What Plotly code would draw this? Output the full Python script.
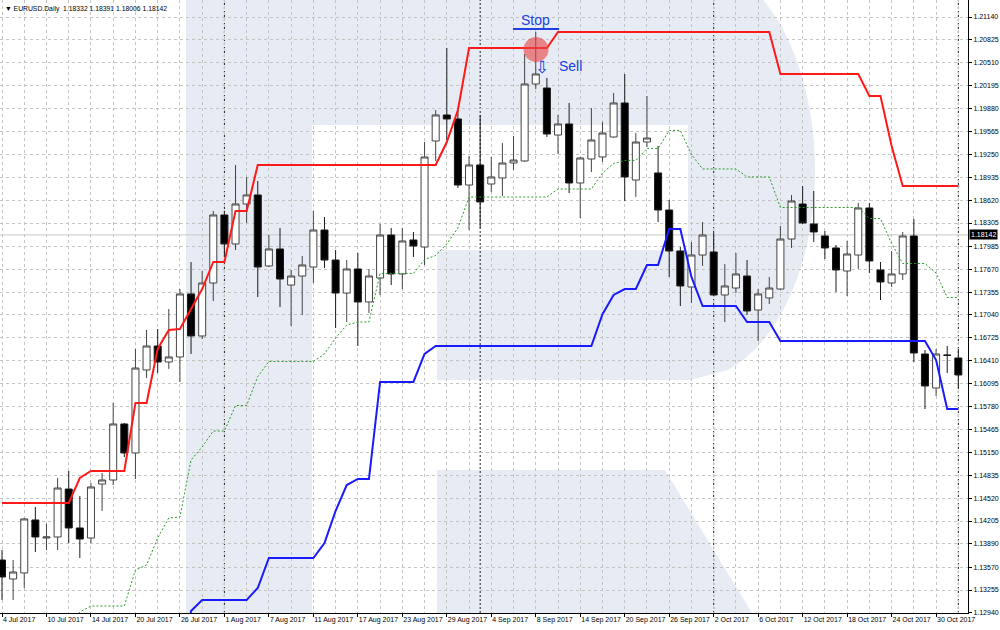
import math
import plotly.graph_objects as go

# ---------------- data (EURUSD Daily, 4 Jul 2017 .. 1 Nov 2017) ----------------
opens = [1.13668, 1.13407, 1.13490, 1.14219, 1.13971, 1.13985, 1.14645, 1.14109, 1.13971, 1.14714,
         1.14769, 1.15540, 1.15141, 1.16283, 1.16613, 1.16393, 1.16462, 1.17329, 1.16751, 1.17480,
         1.18416, 1.18017, 1.18567, 1.18691, 1.17714, 1.17948, 1.17452, 1.17576, 1.17700, 1.18209,
         1.17796, 1.17342, 1.17673, 1.17219, 1.17549, 1.18140, 1.17604, 1.18072, 1.17975, 1.19434,
         1.19792, 1.19737, 1.18828, 1.19104, 1.18842, 1.18925, 1.19131, 1.19159, 1.20218, 1.20163,
         1.19516, 1.19668, 1.18856, 1.19186, 1.19214, 1.19489, 1.19957, 1.18897, 1.19420, 1.18994,
         1.18484, 1.17920, 1.17425, 1.17865, 1.17907, 1.17315, 1.17411, 1.17576, 1.17108, 1.17274,
         1.17397, 1.18085, 1.18567, 1.18292, 1.18127, 1.17962, 1.17645, 1.17865, 1.18512, 1.17659,
         1.17480, 1.17604, 1.18127, 1.16503, 1.16035, 1.16489, 1.16448]
highs = [1.13806, 1.13668, 1.14246, 1.14398, 1.14164, 1.14797, 1.14893, 1.14549, 1.14728, 1.14866,
         1.15829, 1.15554, 1.16572, 1.16833, 1.16847, 1.17122, 1.17397, 1.17769, 1.17645, 1.18471,
         1.18471, 1.19104, 1.18939, 1.18883, 1.18140, 1.18237, 1.17659, 1.17851, 1.18471, 1.18388,
         1.17934, 1.17796, 1.17893, 1.17673, 1.18292, 1.18237, 1.18237, 1.18182, 1.19420, 1.19860,
         1.20714, 1.19860, 1.19227, 1.19792, 1.19214, 1.19406, 1.19503, 1.20631, 1.20934, 1.20301,
         1.19792, 1.19957, 1.19214, 1.19888, 1.19695, 1.20094, 1.20356, 1.19544, 1.20053, 1.19365,
         1.18622, 1.17975, 1.18044, 1.18319, 1.18168, 1.17741, 1.17893, 1.17796, 1.17397, 1.17563,
         1.18264, 1.18691, 1.18815, 1.18746, 1.18195, 1.18003, 1.18058, 1.18581, 1.18581, 1.17769,
         1.17920, 1.18182, 1.18361, 1.16558, 1.16572, 1.16613, 1.16572]
lows = [1.13118, 1.13118, 1.13283, 1.13779, 1.13806, 1.13806, 1.13902, 1.13696, 1.13902, 1.14343,
        1.14700, 1.15086, 1.14783, 1.16173, 1.16242, 1.16297, 1.16118, 1.16503, 1.16709, 1.17232,
        1.17838, 1.17934, 1.18306, 1.17287, 1.17700, 1.17150, 1.16888, 1.17040, 1.17480, 1.17686,
        1.16861, 1.16943, 1.16613, 1.17067, 1.17315, 1.17452, 1.17397, 1.17838, 1.17728, 1.19159,
        1.19448, 1.18787, 1.18209, 1.18237, 1.18732, 1.18677, 1.19035, 1.19145, 1.20149, 1.19489,
        1.19255, 1.18718, 1.18374, 1.19007, 1.19145, 1.19480, 1.18608, 1.18663, 1.19351, 1.18319,
        1.17563, 1.17163, 1.17205, 1.17714, 1.17301, 1.16943, 1.17342, 1.17040, 1.16682, 1.17191,
        1.17384, 1.17962, 1.18292, 1.18044, 1.17810, 1.17356, 1.17301, 1.17673, 1.17618, 1.17246,
        1.17425, 1.17521, 1.16393, 1.15746, 1.15925, 1.16242, 1.16035]
closes = [1.13435, 1.13503, 1.14233, 1.13985, 1.13985, 1.14659, 1.14109, 1.13957, 1.14673, 1.14769,
          1.15540, 1.15141, 1.16310, 1.16613, 1.16393, 1.16462, 1.17329, 1.16751, 1.17480, 1.18416,
          1.18017, 1.18567, 1.18691, 1.17700, 1.17948, 1.17535, 1.17576, 1.17728, 1.18209, 1.17796,
          1.17342, 1.17673, 1.17219, 1.17576, 1.18140, 1.17604, 1.18058, 1.17989, 1.19214, 1.19792,
          1.19737, 1.18828, 1.19104, 1.18595, 1.18939, 1.19131, 1.19172, 1.20218, 1.20356, 1.19530,
          1.19668, 1.18856, 1.19200, 1.19448, 1.19544, 1.19957, 1.18939, 1.19420, 1.19475, 1.18484,
          1.17920, 1.17439, 1.17865, 1.18140, 1.17315, 1.17439, 1.17604, 1.17095, 1.17329, 1.17411,
          1.18085, 1.18608, 1.18306, 1.18182, 1.17962, 1.17659, 1.17879, 1.18512, 1.17783, 1.17494,
          1.17604, 1.18127, 1.16517, 1.16063, 1.16503, 1.16485, 1.16214]

# channel indicator (upper / lower / middle)
upper_line = [1.14453, 1.14453, 1.14453, 1.14453, 1.14453, 1.14453, 1.14453, 1.14797, 1.14893, 1.14893,
              1.14893, 1.14893, 1.15829, 1.15829, 1.16572, 1.16833, 1.16847, 1.17122, 1.17397, 1.17769,
              1.17769, 1.18471, 1.18471, 1.19104, 1.19104, 1.19104, 1.19104, 1.19104, 1.19104, 1.19104,
              1.19104, 1.19104, 1.19104, 1.19104, 1.19104, 1.19104, 1.19104, 1.19104, 1.19104, 1.19104,
              1.19420, 1.19860, 1.20714, 1.20714, 1.20714, 1.20714, 1.20714, 1.20714, 1.20714, 1.20714,
              1.20934, 1.20934, 1.20934, 1.20934, 1.20934, 1.20934, 1.20934, 1.20934, 1.20934, 1.20934,
              1.20934, 1.20934, 1.20934, 1.20934, 1.20934, 1.20934, 1.20934, 1.20934, 1.20934, 1.20934,
              1.20356, 1.20356, 1.20356, 1.20356, 1.20356, 1.20356, 1.20356, 1.20356, 1.20053, 1.20053,
              1.19365, 1.18815, 1.18815, 1.18815, 1.18815, 1.18815, 1.18815]
lower_line = [None, None, None, None, None, None, None, None, None, None,
              None, None, None, None, None, None, 1.11673, 1.12967, 1.13118, 1.13118,
              1.13118, 1.13118, 1.13118, 1.13283, 1.13696, 1.13696, 1.13696, 1.13696, 1.13696, 1.13902,
              1.14343, 1.14700, 1.14783, 1.14783, 1.16118, 1.16118, 1.16118, 1.16118, 1.16503, 1.16613,
              1.16613, 1.16613, 1.16613, 1.16613, 1.16613, 1.16613, 1.16613, 1.16613, 1.16613, 1.16613,
              1.16613, 1.16613, 1.16613, 1.16613, 1.17050, 1.17315, 1.17397, 1.17397, 1.17728, 1.17728,
              1.18223, 1.18223, 1.17563, 1.17163, 1.17163, 1.17163, 1.17163, 1.16943, 1.16943, 1.16943,
              1.16682, 1.16682, 1.16682, 1.16682, 1.16682, 1.16682, 1.16682, 1.16682, 1.16682, 1.16682,
              1.16682, 1.16682, 1.16682, 1.16682, 1.16420, 1.15746, 1.15746]
middle_line = [None, None, None, None, None, None, 1.12760, 1.12953, 1.13035, 1.13035,
               1.13035, 1.13035, 1.13531, 1.13600, 1.13971, 1.14246, 1.14260, 1.15044, 1.15223, 1.15443,
               1.15443, 1.15794, 1.15794, 1.16193, 1.16400, 1.16400, 1.16400, 1.16400, 1.16400, 1.16503,
               1.16723, 1.16902, 1.16943, 1.16943, 1.17611, 1.17611, 1.17611, 1.17611, 1.17803, 1.17858,
               1.18017, 1.18237, 1.18663, 1.18663, 1.18663, 1.18663, 1.18663, 1.18663, 1.18663, 1.18663,
               1.18773, 1.18773, 1.18773, 1.18773, 1.18992, 1.19124, 1.19166, 1.19166, 1.19331, 1.19331,
               1.19579, 1.19579, 1.19248, 1.19049, 1.19049, 1.19049, 1.19049, 1.18939, 1.18939, 1.18939,
               1.18519, 1.18519, 1.18519, 1.18519, 1.18519, 1.18519, 1.18519, 1.18519, 1.18367, 1.18367,
               1.18023, 1.17748, 1.17748, 1.17748, 1.17618, 1.17280, 1.17280]

bar_index = list(range(len(opens)))

x_tick_bars = [0, 4, 8, 12, 16, 20, 24, 28, 32, 36, 40, 44, 48, 52, 56, 60, 64, 68, 72, 76, 80, 84]
x_tick_labels = ["4 Jul 2017", "10 Jul 2017", "14 Jul 2017", "20 Jul 2017", "26 Jul 2017", "1 Aug 2017",
                 "7 Aug 2017", "11 Aug 2017", "17 Aug 2017", "23 Aug 2017", "29 Aug 2017", "4 Sep 2017",
                 "8 Sep 2017", "14 Sep 2017", "20 Sep 2017", "26 Sep 2017", "2 Oct 2017", "6 Oct 2017",
                 "12 Oct 2017", "18 Oct 2017", "24 Oct 2017", "30 Oct 2017"]
month_separator_bars = [20, 43, 64, 86]

y_tick_labels = ["1.21140", "1.20825", "1.20510", "1.20195", "1.19880", "1.19565", "1.19250", "1.18935",
                 "1.18620", "1.18305", "1.17985", "1.17670", "1.17355", "1.17040", "1.16725", "1.16410",
                 "1.16095", "1.15780", "1.15465", "1.15150", "1.14835", "1.14520", "1.14205", "1.13890",
                 "1.13570", "1.13255", "1.12940"]
y_tick_values = [float(t) for t in y_tick_labels]

current_price = 1.18142
header_text = "▼ EURUSD.Daily  1.18332 1.18391 1.18006 1.18142"

# ---------------- layout geometry ----------------
W, H = 1000, 630
PLOT_W, PLOT_H = 968, 613
X_RANGE = [-0.18, 86.87]
Y_RANGE = [1.12939, 1.21374]
WM = "#e7ebf3"


def px(xp):
    return xp / PLOT_W


def py(yp):
    return 1 - yp / PLOT_H


fig = go.Figure()

fig.add_trace(go.Candlestick(
    x=bar_index, open=opens, high=highs, low=lows, close=closes,
    increasing=dict(fillcolor="white", line=dict(color="#444444", width=1)),
    decreasing=dict(fillcolor="black", line=dict(color="#1a1a1a", width=1)),
    whiskerwidth=0, showlegend=False, hoverinfo="skip",
))
fig.add_trace(go.Scatter(x=bar_index, y=middle_line, mode="lines",
                         line=dict(color="#2a9a2a", width=1, dash="2px,2px"), showlegend=False,
                         hoverinfo="skip"))
fig.add_trace(go.Scatter(x=bar_index, y=upper_line, mode="lines",
                         line=dict(color="#ff1a1a", width=2), showlegend=False, hoverinfo="skip"))
fig.add_trace(go.Scatter(x=bar_index, y=lower_line, mode="lines",
                         line=dict(color="#1a1aff", width=2), showlegend=False, hoverinfo="skip"))

shapes = []
# watermark "R" logo
shapes.append(dict(type="rect", xref="paper", yref="paper", x0=px(186), x1=px(312), y0=py(613), y1=py(0),
                   fillcolor=WM, line=dict(width=0), layer="below"))
shapes.append(dict(type="rect", xref="paper", yref="paper", x0=px(312), x1=px(690), y0=py(125), y1=py(0),
                   fillcolor=WM, line=dict(width=0), layer="below"))
shapes.append(dict(type="rect", xref="paper", yref="paper", x0=px(437), x1=px(690), y0=py(380), y1=py(250),
                   fillcolor=WM, line=dict(width=0), layer="below"))
pts = [(688, 0)]
for yp in range(0, 381, 10):
    t = (yp - 170) / 210
    pts.append((690 + 125 * math.sqrt(max(0.0, 1 - t * t)), yp))
pts.append((688, 380))
path = "M " + " L ".join(f"{px(a):.5f},{py(b):.5f}" for a, b in pts) + " Z"
shapes.append(dict(type="path", xref="paper", yref="paper", path=path, fillcolor=WM,
                   line=dict(width=0), layer="below"))
leg = [(437, 470), (665, 470), (752, 613), (437, 613)]
path = "M " + " L ".join(f"{px(a):.5f},{py(b):.5f}" for a, b in leg) + " Z"
shapes.append(dict(type="path", xref="paper", yref="paper", path=path, fillcolor=WM,
                   line=dict(width=0), layer="below"))

# current price line
shapes.append(dict(type="line", xref="paper", yref="y", x0=0, x1=1, y0=current_price, y1=current_price,
                   line=dict(color="#c8c8c8", width=1), layer="below"))
# month separators
for b in month_separator_bars:
    shapes.append(dict(type="line", xref="x", yref="paper", x0=b, x1=b, y0=0, y1=1,
                       line=dict(color="#202020", width=1, dash="2px,2px"), layer="below"))
# Stop underline and highlight circle
shapes.append(dict(type="line", xref="x", yref="y", x0=45.95, x1=50.1, y0=1.20975, y1=1.20975,
                   line=dict(color="#2040e0", width=2)))
shapes.append(dict(type="circle", xref="x", yref="y", x0=46.9, x1=49.15, y0=1.20521, y1=1.20865,
                   fillcolor="rgba(232,70,70,0.62)", line=dict(width=0), layer="above"))

annotations = [
    dict(text=header_text, xref="paper", yref="paper", x=0.003, y=py(3), xanchor="left", yanchor="top",
         showarrow=False, font=dict(size=6.8, color="#000000")),
    dict(text="Stop", xref="x", yref="y", x=48.0, y=1.21099, showarrow=False,
         font=dict(size=14, color="#2040e0")),
    dict(text="⇩", xref="x", yref="y", x=48.55, y=1.20452, showarrow=False,
         font=dict(family="DejaVu Sans", size=17, color="#2040e0")),
    dict(text="Sell", xref="x", yref="y", x=49.9, y=1.20462, xanchor="left", showarrow=False,
         font=dict(size=14, color="#2040e0")),
    dict(text=f"{current_price:.5f}", xref="paper", yref="y", x=1.0, y=current_price, xanchor="left",
         xshift=1, showarrow=False, bgcolor="#000000", borderpad=1,
         font=dict(size=7, color="#ffffff")),
]

grid = dict(gridcolor="#c4c4c4", griddash="3px,3px", gridwidth=1)

fig.update_layout(
    width=W, height=H,
    margin=dict(l=0, r=W - PLOT_W, t=0, b=H - PLOT_H, autoexpand=False),
    paper_bgcolor="white", plot_bgcolor="white",
    font=dict(family="Liberation Sans, Arial, sans-serif", size=7, color="#000000"),
    shapes=shapes, annotations=annotations,
    boxgap=0.37, boxgroupgap=0,
    xaxis=dict(range=X_RANGE, tickmode="array", tickvals=x_tick_bars, ticktext=x_tick_labels,
               ticklabelposition="outside right", tickangle=0, ticks="outside", ticklen=3, tickcolor="#000",
               showline=True, linecolor="#000", linewidth=1, zeroline=False, automargin=False,
               showgrid=True, **grid, rangeslider=dict(visible=False),
               minor=dict(tickmode="array", tickvals=list(range(0, 87, 2)), showgrid=True,
                          gridcolor="#c4c4c4", griddash="3px,3px", ticks="")),
    yaxis=dict(range=Y_RANGE, side="right", tickmode="array", tickvals=y_tick_values, ticktext=y_tick_labels,
               ticks="outside", ticklen=3, tickcolor="#000", showline=True, linecolor="#000", linewidth=1,
               zeroline=False, showgrid=True, automargin=False, **grid),
    hovermode=False,
)

fig.write_html("out.html", config=dict(displayModeBar=False),
               post_script="document.body.style.margin='0px';document.body.style.overflow='hidden';")
